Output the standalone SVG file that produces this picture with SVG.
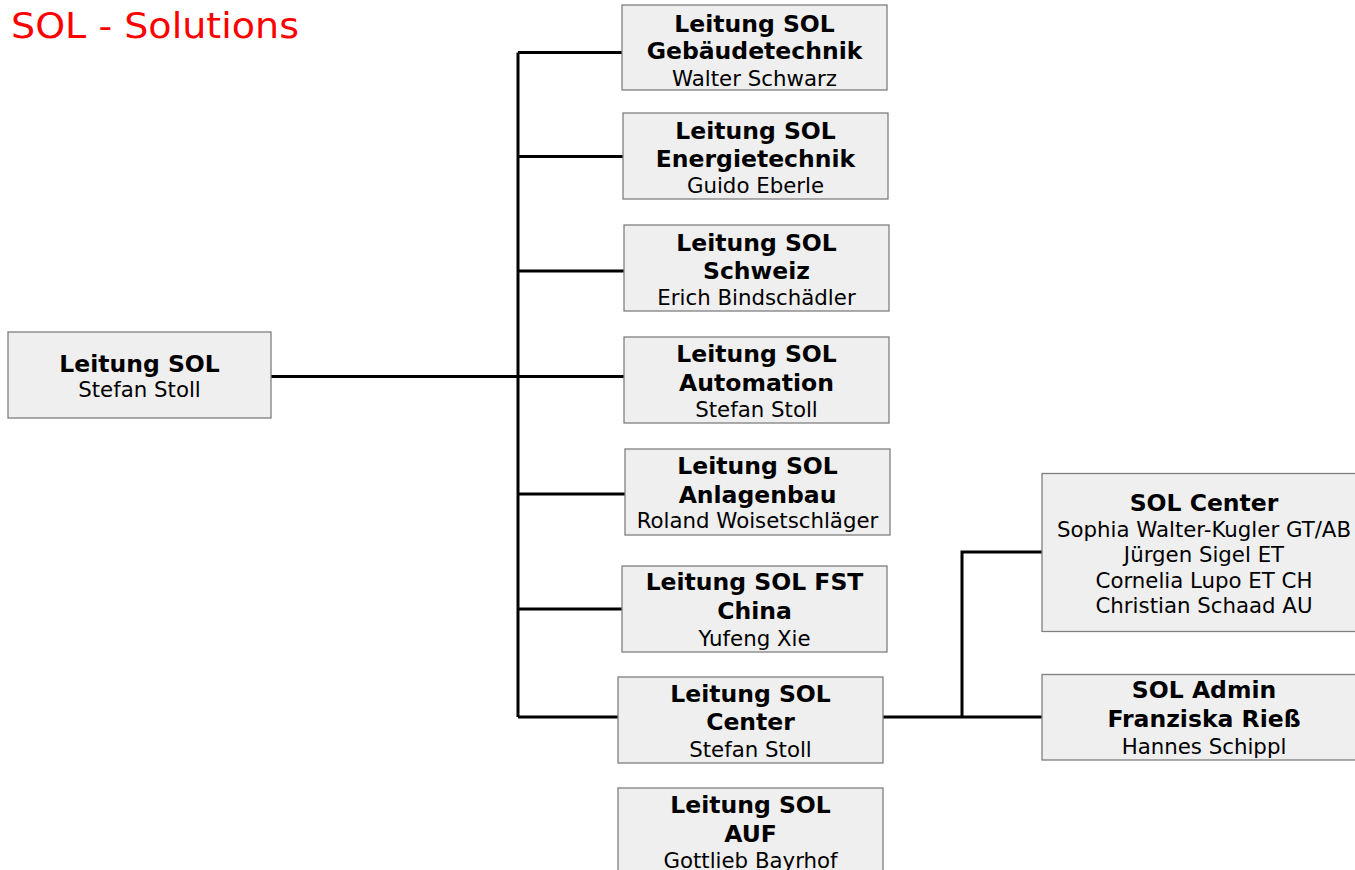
<svg xmlns="http://www.w3.org/2000/svg" width="1355" height="870" viewBox="0 0 1355 870">
<style>
.box{fill:#efefef;stroke:#7f7f7f;stroke-width:1.3}
.b{font-family:"DejaVu Sans",Verdana,sans-serif;font-weight:bold;font-size:23.5px;fill:#000;text-anchor:middle}
.n{font-family:"DejaVu Sans",Verdana,sans-serif;font-size:21.3px;fill:#000;text-anchor:middle}
.ln{stroke:#000;stroke-width:3;fill:none}
</style>
<rect width="1355" height="870" fill="#fff"/>
<text x="11" y="37.5" font-family="'DejaVu Sans',Verdana,sans-serif" font-size="36" fill="#ff0000" textLength="288" lengthAdjust="spacingAndGlyphs">SOL - Solutions</text>
<g id="connectors">
<path class="ln" d="M271 376.5H518M518 52.5V717M518 52.5H622M518 156.5H623M518 271H624M518 376.5H624M518 494H625M518 609H622M518 717H618"/>
<path class="ln" d="M883 717H1042M962 717V552H1042"/>
</g>
<g id="root">
<rect class="box" x="8" y="332" width="263" height="86"/>
<text class="b" x="139.5" y="371.7">Leitung SOL</text>
<text class="n" x="139.5" y="397.3">Stefan Stoll</text>
</g>
<g id="gebaeude">
<rect class="box" x="622" y="5" width="265" height="85"/>
<text class="b" x="754.5" y="31.7">Leitung SOL</text>
<text class="b" x="754.5" y="59.3">Gebäudetechnik</text>
<text class="n" x="754.5" y="86">Walter Schwarz</text>
</g>
<g id="energie">
<rect class="box" x="623" y="113" width="265" height="86"/>
<text class="b" x="755.5" y="139.3">Leitung SOL</text>
<text class="b" x="755.5" y="166.7">Energietechnik</text>
<text class="n" x="755.5" y="193.3">Guido Eberle</text>
</g>
<g id="schweiz">
<rect class="box" x="624" y="225" width="265" height="86"/>
<text class="b" x="756.5" y="250.7">Leitung SOL</text>
<text class="b" x="756.5" y="279.3">Schweiz</text>
<text class="n" x="756.5" y="305">Erich Bindschädler</text>
</g>
<g id="automation">
<rect class="box" x="624" y="337" width="265" height="86"/>
<text class="b" x="756.5" y="362.3">Leitung SOL</text>
<text class="b" x="756.5" y="391">Automation</text>
<text class="n" x="756.5" y="416.7">Stefan Stoll</text>
</g>
<g id="anlagenbau">
<rect class="box" x="625" y="449" width="265" height="86"/>
<text class="b" x="757.5" y="474.3">Leitung SOL</text>
<text class="b" x="757.5" y="503.3">Anlagenbau</text>
<text class="n" x="757.5" y="528.3">Roland Woisetschläger</text>
</g>
<g id="fst-china">
<rect class="box" x="622" y="566" width="265" height="86"/>
<text class="b" x="754.5" y="590">Leitung SOL FST</text>
<text class="b" x="754.5" y="619.3">China</text>
<text class="n" x="754.5" y="646">Yufeng Xie</text>
</g>
<g id="center">
<rect class="box" x="618" y="677" width="265" height="86"/>
<text class="b" x="750.5" y="701.7">Leitung SOL</text>
<text class="b" x="750.5" y="730">Center</text>
<text class="n" x="750.5" y="757.3">Stefan Stoll</text>
</g>
<g id="auf">
<rect class="box" x="618" y="788" width="265" height="86"/>
<text class="b" x="750.5" y="813.3">Leitung SOL</text>
<text class="b" x="750.5" y="841.7">AUF</text>
<text class="n" x="750.5" y="868">Gottlieb Bayrhof</text>
</g>
<g id="sol-center">
<rect class="box" x="1042" y="473.5" width="324" height="158"/>
<text class="b" x="1204" y="510.7">SOL Center</text>
<text class="n" x="1204" y="536.7">Sophia Walter-Kugler GT/AB</text>
<text class="n" x="1204" y="561.7">Jürgen Sigel ET</text>
<text class="n" x="1204" y="587.7">Cornelia Lupo ET CH</text>
<text class="n" x="1204" y="613.3">Christian Schaad AU</text>
</g>
<g id="sol-admin">
<rect class="box" x="1042" y="674.5" width="324" height="85.5"/>
<text class="b" x="1204" y="698.3">SOL Admin</text>
<text class="b" x="1204" y="726.7">Franziska Rieß</text>
<text class="n" x="1204" y="754.3">Hannes Schippl</text>
</g>
</svg>
